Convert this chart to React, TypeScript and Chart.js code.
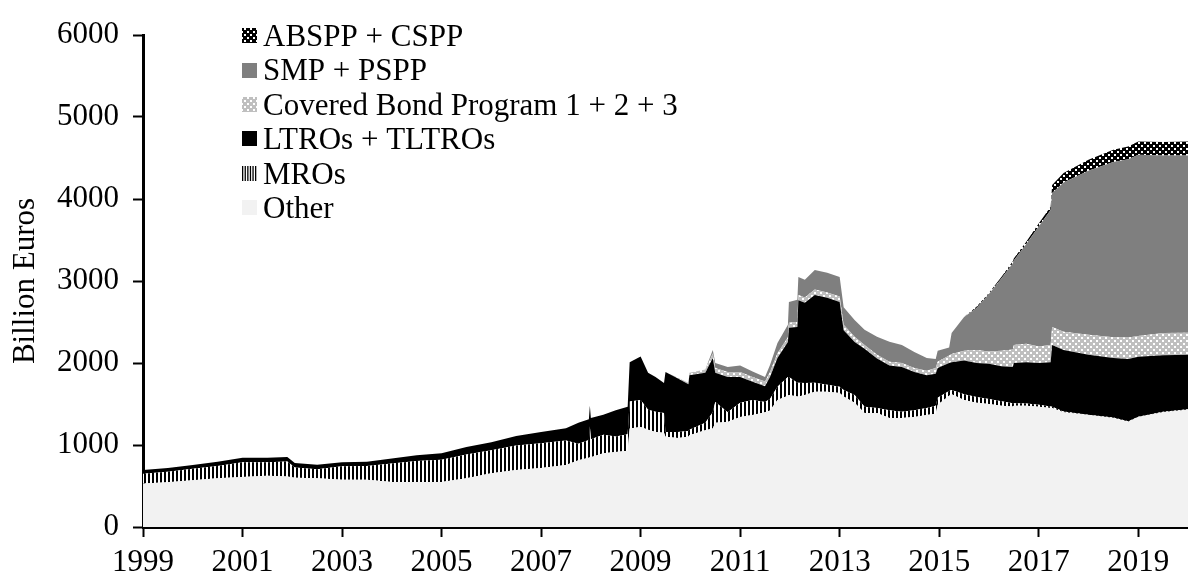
import { useEffect, useRef } from "react";
import { Chart, registerables } from "chart.js";

Chart.register(...registerables);

// Dates as decimal years (weekly ECB statements, sampled)
const dates = [
  1999.0, 1999.5, 2000.0, 2000.5, 2001.0, 2001.5, 2001.9, 2002.05, 2002.5, 2003.0,
  2003.5, 2004.0, 2004.5, 2005.0, 2005.5, 2006.0, 2006.5, 2007.0, 2007.5, 2007.75,
  2007.96, 2007.98, 2008.0, 2008.25, 2008.5, 2008.74, 2008.78, 2009.0, 2009.15, 2009.3,
  2009.47, 2009.5, 2009.75, 2009.96, 2009.98, 2010.3, 2010.45, 2010.5, 2010.75, 2011.0,
  2011.25, 2011.5, 2011.6, 2011.75, 2011.96, 2011.98, 2012.15, 2012.17, 2012.3, 2012.5,
  2012.75, 2013.0, 2013.08, 2013.3, 2013.5, 2013.75, 2014.0, 2014.25, 2014.5, 2014.75,
  2014.93, 2014.97, 2015.2, 2015.25, 2015.5, 2015.75, 2016.0, 2016.25, 2016.48, 2016.5,
  2016.75, 2017.0, 2017.24, 2017.27, 2017.5, 2018.0, 2018.5, 2018.8, 2019.0, 2019.5,
  2020.0,
];

// Billion euros, one value per date
const otherValues = [
  530, 545, 570, 595, 610, 625, 615, 600, 595, 575,
  575, 550, 550, 550, 595, 655, 695, 720, 755, 815,
  845, 850, 850, 900, 915, 930, 1200, 1220, 1185, 1160,
  1150, 1100, 1085, 1100, 1120, 1180, 1200, 1270, 1280, 1340,
  1365, 1400, 1420, 1550, 1600, 1610, 1590, 1590, 1610, 1650,
  1650, 1635, 1590, 1515, 1390, 1390, 1330, 1330, 1340, 1365,
  1380, 1490, 1600, 1620, 1550, 1515, 1500, 1480, 1470, 1480,
  1480, 1465, 1450, 1450, 1400, 1365, 1330, 1285, 1340, 1400,
  1430,
];

const mroValues = [
  120, 130, 140, 150, 180, 165, 185, 125, 110, 165,
  170, 225, 255, 270, 290, 280, 300, 300, 300, 200,
  215, 380, 220, 225, 190, 200, 330, 330, 245, 245,
  240, 60, 75, 70, 65, 90, 200, 255, 120, 175,
  185, 125, 140, 160, 230, 220, 170, 170, 145, 110,
  85, 75, 80, 95, 75, 60, 95, 75, 85, 85,
  100, 85, 60, 50, 70, 70, 60, 55, 40, 30,
  25, 25, 20, 15, 10, 5, 5, 5, 5, 5,
  5,
];

const ltroValues = [
  45, 45, 45, 50, 55, 55, 55, 55, 55, 50,
  50, 60, 70, 80, 90, 100, 115, 140, 150, 255,
  255, 250, 260, 245, 320, 335, 480, 530, 450, 425,
  365, 730, 650, 570, 665, 610, 660, 355, 430, 315,
  220, 190, 270, 350, 425, 600, 680, 1005, 980, 1070,
  1060, 1035, 730, 645, 710, 605, 545, 545, 465, 400,
  390, 365, 340, 340, 410, 415, 430, 425, 440, 490,
  505, 510, 540, 755, 750, 730, 725, 760, 730, 690,
  665,
];

const coveredValues = [
  0, 0, 0, 0, 0, 0, 0, 0, 0, 0,
  0, 0, 0, 0, 0, 0, 0, 0, 0, 0,
  0, 0, 0, 0, 0, 0, 0, 0, 0, 0,
  0, 0, 10, 20, 30, 40, 55, 60, 60, 60,
  60, 60, 60, 60, 60, 60, 60, 65, 65, 65,
  65, 65, 65, 65, 45, 45, 45, 50, 50, 55,
  70, 75, 90, 100, 120, 160, 150, 190, 215, 220,
  225, 200, 210, 220, 220, 245, 255, 260, 255, 270,
  270,
];

const smpValues = [
  0, 0, 0, 0, 0, 0, 0, 0, 0, 0,
  0, 0, 0, 0, 0, 0, 0, 0, 0, 0,
  0, 0, 0, 0, 0, 0, 0, 0, 0, 0,
  0, 0, 0, 0, 0, 0, 45, 60, 60, 80,
  65, 55, 85, 125, 150, 255, 270, 220, 215, 240,
  240, 240, 215, 205, 185, 220, 245, 220, 195, 155,
  110, 135, 100, 257, 412, 510, 700, 880, 1050, 1030,
  1215, 1465, 1645, 1632, 1822, 2000, 2135, 2175, 2210, 2165,
  2160,
];

const absppValues = [
  0, 0, 0, 0, 0, 0, 0, 0, 0, 0,
  0, 0, 0, 0, 0, 0, 0, 0, 0, 0,
  0, 0, 0, 0, 0, 0, 0, 0, 0, 0,
  0, 0, 0, 0, 0, 0, 0, 0, 0, 0,
  0, 0, 0, 0, 0, 0, 0, 0, 0, 0,
  0, 0, 0, 0, 0, 0, 0, 0, 0, 0,
  0, 0, 0, 0, 0, 15, 15, 20, 25, 25,
  30, 35, 40, 100, 115, 135, 150, 155, 160, 165,
  170,
];

const xTickYears = [1999, 2001, 2003, 2005, 2007, 2009, 2011, 2013, 2015, 2017, 2019];
const yTickValues = [0, 1000, 2000, 3000, 4000, 5000, 6000];

const FONT = '"Liberation Serif", "Times New Roman", serif';
const FS = 31;

function tile(w: number, h: number, draw: (g: CanvasRenderingContext2D) => void) {
  const c = document.createElement("canvas");
  c.width = w;
  c.height = h;
  const g = c.getContext("2d")!;
  draw(g);
  return c;
}

export default function App() {
  const ref = useRef<HTMLCanvasElement>(null);

  useEffect(() => {
    const canvas = ref.current!;
    const ctx = canvas.getContext("2d")!;

    const stripes = ctx.createPattern(
      tile(4, 4, (g) => {
        g.fillStyle = "#ffffff";
        g.fillRect(0, 0, 4, 4);
        g.fillStyle = "#000000";
        g.fillRect(0, 0, 2, 4);
      }),
      "repeat"
    )!;
    const dots = (bg: string) =>
      ctx.createPattern(
        tile(6, 6, (g) => {
          g.fillStyle = bg;
          g.fillRect(0, 0, 6, 6);
          g.fillStyle = "#ffffff";
          g.fillRect(1, 1, 2, 2);
          g.fillRect(4, 4, 2, 2);
        }),
        "repeat"
      )!;
    const coveredFill = dots("#bfbfbf");
    const absppFill = dots("#000000");

    const series = [
      { label: "Other", values: otherValues, fill: "#f2f2f2" as any },
      { label: "MROs", values: mroValues, fill: stripes as any },
      { label: "LTROs + TLTROs", values: ltroValues, fill: "#000000" as any },
      { label: "Covered Bond Program 1 + 2 + 3", values: coveredValues, fill: coveredFill as any },
      { label: "SMP + PSPP", values: smpValues, fill: "#7f7f7f" as any },
      { label: "ABSPP + CSPP", values: absppValues, fill: absppFill as any },
    ];

    const legendPlugin = {
      id: "insideLegend",
      afterDraw(chart: any) {
        const c = chart.ctx as CanvasRenderingContext2D;
        c.save();
        c.font = `${FS}px ${FONT}`;
        c.textBaseline = "alphabetic";
        c.textAlign = "left";
        const items = [...series].reverse();
        items.forEach((s, i) => {
          const cy = 35.6 + i * 34.4;
          const x0 = 242;
          const y0 = Math.round(cy - 7.5);
          if (s.label === "MROs") {
            c.fillStyle = "#ffffff";
            c.fillRect(x0, y0, 15, 15);
            c.fillStyle = "#000000";
            for (let k = 0; k < 6; k++) c.fillRect(x0 + k * 2.6, y0, 1.3, 15);
          } else {
            c.fillStyle = s.fill;
            c.fillRect(x0, y0, 15, 15);
          }
          c.fillStyle = "#000000";
          c.fillText(s.label, 263, cy + 10.3);
        });
        c.restore();
      },
    };

    const chart = new Chart(canvas, {
      type: "line",
      data: {
        datasets: series.map((s, i) => ({
          label: s.label,
          data: dates.map((d, j) => ({ x: d, y: s.values[j] })),
          backgroundColor: s.fill,
          borderColor: "rgba(0,0,0,0)",
          borderWidth: 0,
          pointRadius: 0,
          pointHoverRadius: 0,
          tension: 0,
          fill: i === 0 ? "origin" : "-1",
        })),
      },
      options: {
        responsive: false,
        animation: false,
        events: [],
        layout: { padding: { top: 35, left: 0, right: 0, bottom: 0 } },
        plugins: { legend: { display: false }, tooltip: { enabled: false } },
        scales: {
          x: {
            type: "linear",
            min: 1999,
            max: 2020,
            afterBuildTicks: (axis: any) => {
              axis.ticks = xTickYears.map((v) => ({ value: v }));
            },
            afterFit: (axis: any) => {
              axis.height = 51;
            },
            ticks: {
              autoSkip: false,
              maxRotation: 0,
              color: "#000",
              padding: 7,
              font: { family: FONT, size: FS },
              callback: (v: any) => String(v),
            },
            grid: {
              display: true,
              drawOnChartArea: false,
              drawTicks: true,
              tickLength: 10,
              color: "#000",
              tickColor: "#000",
              tickWidth: 2,
            },
            border: { display: true, color: "#000", width: 3 },
          },
          y: {
            stacked: true,
            min: 0,
            max: 6000,
            afterBuildTicks: (axis: any) => {
              axis.ticks = yTickValues.map((v) => ({ value: v }));
            },
            afterFit: (axis: any) => {
              axis.width = 143;
            },
            ticks: {
              color: "#000",
              padding: 14,
              font: { family: FONT, size: FS },
              callback: (v: any) => String(v),
            },
            title: {
              display: true,
              text: "Billion Euros",
              color: "#000",
              font: { family: FONT, size: FS },
              padding: { top: 7, bottom: 0 },
            },
            grid: {
              display: true,
              drawOnChartArea: false,
              drawTicks: true,
              tickLength: 10,
              color: "#000",
              tickColor: "#000",
              tickWidth: 2,
            },
            border: { display: true, color: "#000", width: 3 },
          },
        },
      },
      plugins: [legendPlugin],
    });

    return () => chart.destroy();
  }, []);

  return (
    <div style={{ position: "fixed", left: 0, top: 0, width: 1188, height: 578, background: "#fff" }}>
      <canvas ref={ref} width={1188} height={578} style={{ display: "block" }} />
    </div>
  );
}
